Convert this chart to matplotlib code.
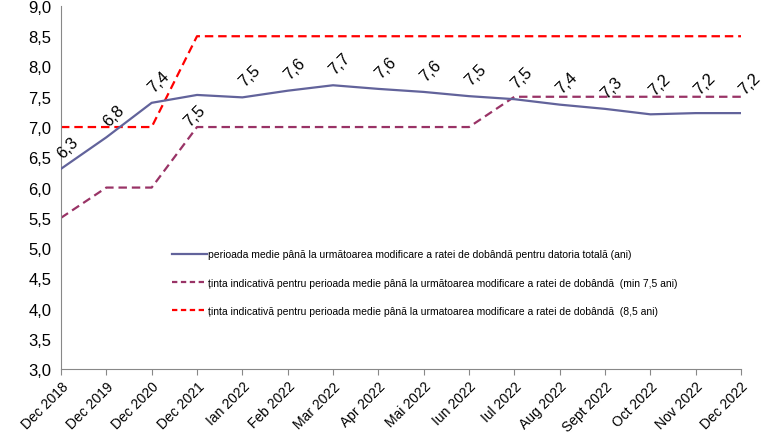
import matplotlib
matplotlib.use("Agg")
import matplotlib.pyplot as plt

plt.rcParams['font.family'] = ['Liberation Sans', 'DejaVu Sans']

# categorii (axa X)
luni = ['Dec 2018', 'Dec 2019', 'Dec 2020', 'Dec 2021', 'Ian 2022', 'Feb 2022',
        'Mar 2022', 'Apr 2022', 'Mai 2022', 'Iun 2022', 'Iul 2022', 'Aug 2022',
        'Sept 2022', 'Oct 2022', 'Nov 2022', 'Dec 2022']

# perioada medie pana la urmatoarea modificare a ratei de dobanda (ani)
atr = [6.31, 6.83, 7.40, 7.53, 7.49, 7.60, 7.69, 7.63, 7.58, 7.51,
       7.46, 7.37, 7.30, 7.21, 7.23, 7.23]
# tinta minima
tinta_min = [5.5, 6.0, 6.0, 7.0, 7.0, 7.0, 7.0, 7.0, 7.0, 7.0,
             7.5, 7.5, 7.5, 7.5, 7.5, 7.5]
# tinta 8,5 ani
tinta_85 = [7.0, 7.0, 7.0, 8.5, 8.5, 8.5, 8.5, 8.5, 8.5, 8.5,
            8.5, 8.5, 8.5, 8.5, 8.5, 8.5]

lbl_atr = 'perioada medie până la următoarea modificare a ratei de dobândă pentru datoria totală (ani)'
lbl_min = 'ținta indicativă pentru perioada medie până la următoarea modificare a ratei de dobândă  (min 7,5 ani)'
lbl_85 = 'ținta indicativă pentru perioada medie până la urmatoarea modificare a ratei de dobândă  (8,5 ani)'

fig = plt.figure(figsize=(7.76, 4.35), dpi=100)
ax = fig.add_axes([0.0786, 0.149, 0.8764, 0.835])

x = list(range(len(luni)))
ax.plot(x, atr, color='#62639B', lw=1.6, label=lbl_atr, zorder=3)
ax.plot(x, tinta_min, color='#993366', lw=1.6, dashes=(3.8, 2.2), label=lbl_min, zorder=2)
ax.plot(x, tinta_85, color='#FF0000', lw=1.6, dashes=(3.8, 2.2), label=lbl_85, zorder=2)

# etichete de date
for i, v in enumerate(atr):
    off = (7, 22)
    if i == 3:
        off = (-2, -20)
    elif i >= 13:
        off = (9, 30)
    ax.annotate(f'{v:.1f}'.replace('.', ','), (i, v), xytext=off,
                textcoords='offset pixels', rotation=45, fontsize=12,
                ha='center', va='center', color='black')

ax.set_xlim(0, len(luni) - 1)
ax.set_ylim(3.0, 9.0)
ax.set_yticks([3.0 + 0.5 * k for k in range(13)])
ax.set_yticklabels([f'{3.0 + 0.5 * k:.1f}'.replace('.', ',') for k in range(13)], fontsize=12)
ax.set_xticks(x)
ax.set_xticklabels(luni, rotation=45, ha='right', rotation_mode='anchor', fontsize=10)
ax.tick_params(axis='x', length=4, color='#888888', pad=3)
ax.tick_params(axis='y', length=0, pad=7)

for s in ['top', 'right']:
    ax.spines[s].set_visible(False)
for s in ['left', 'bottom']:
    ax.spines[s].set_color('#888888')

leg = ax.legend(loc='upper left', bbox_to_anchor=(0.163, 0.33), frameon=False,
                fontsize=7.5, handlelength=3.4, handletextpad=0.1,
                labelspacing=1.75, borderaxespad=0, borderpad=0)
for h in leg.get_lines()[1:]:
    h.set_dashes((2.4, 1.6))

plt.savefig('out.png', dpi=100)
